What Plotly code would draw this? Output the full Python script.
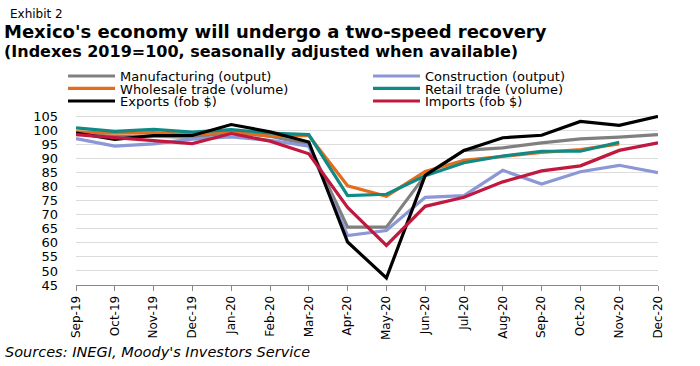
import plotly.graph_objects as go

months = ["Sep-19", "Oct-19", "Nov-19", "Dec-19", "Jan-20", "Feb-20", "Mar-20", "Apr-20",
          "May-20", "Jun-20", "Jul-20", "Aug-20", "Sep-20", "Oct-20", "Nov-20", "Dec-20"]

manufacturing = [99.0, 97.8, 98.0, 97.5, 99.3, 98.0, 95.0, 65.6, 65.6, 84.0, 92.9, 93.8, 95.6, 97.0, 97.6, 98.5]
construction = [97.1, 94.4, 95.2, 96.9, 97.7, 96.5, 94.4, 62.6, 64.4, 76.2, 76.8, 85.8, 80.9, 85.3, 87.6, 85.0]
wholesale = [99.5, 99.0, 99.2, 98.5, 99.6, 98.0, 98.2, 80.3, 76.6, 85.4, 89.4, 90.9, 92.2, 93.2, 95.2]
retail = [100.9, 99.7, 100.4, 99.4, 100.3, 99.1, 98.5, 76.8, 77.3, 83.9, 88.5, 90.9, 92.6, 92.6, 95.8]
exports = [99.1, 96.8, 98.2, 98.2, 102.1, 99.5, 95.9, 60.3, 47.5, 84.0, 92.9, 97.4, 98.3, 103.2, 101.8, 105.0]
imports = [98.5, 97.4, 96.2, 95.3, 98.9, 96.2, 91.7, 72.6, 59.1, 73.0, 76.2, 81.7, 85.6, 87.4, 92.9, 95.6]

y_ticks = list(range(45, 106, 5))

series = [
    ("Manufacturing (output)", manufacturing, "#808080", "legend"),
    ("Construction (output)", construction, "#8C97D6", "legend"),
    ("Wholesale trade (volume)", wholesale, "#E46C1C", "legend2"),
    ("Retail trade (volume)", retail, "#0F8A84", "legend2"),
    ("Exports (fob $)", exports, "#000000", "legend3"),
    ("Imports (fob $)", imports, "#C0183E", "legend3"),
]

FONT = "DejaVu Sans"

fig = go.Figure()
for name, vals, color, lg in series:
    fig.add_trace(go.Scatter(x=months[:len(vals)], y=vals, name=name, mode="lines",
                             legend=lg, line=dict(color=color, width=3.2)))

def legend_row(y):
    return dict(orientation="h", x=-0.0223, y=y, xanchor="left", yanchor="middle",
                entrywidth=243, entrywidthmode="pixels", itemwidth=47,
                font=dict(family=FONT, size=13, color="#000"),
                bgcolor="rgba(0,0,0,0)", borderwidth=0)

fig.update_layout(
    width=700, height=366,
    margin=dict(l=76, r=42, t=115, b=81, autoexpand=False),
    paper_bgcolor="white", plot_bgcolor="white",
    font=dict(family=FONT, size=13, color="#000"),
    showlegend=True,
    legend=legend_row(1.229),
    legend2=legend_row(1.156),
    legend3=legend_row(1.082),
    xaxis=dict(type="category", categoryorder="array", categoryarray=months,
               range=[0, len(months) - 1], tickangle=-90, automargin=False,
               showgrid=False, showline=True, linecolor="#888", linewidth=1,
               ticks="outside", ticklen=5, tickcolor="#888",
               tickfont=dict(size=12, family=FONT)),
    yaxis=dict(range=[45, 105.5], tickvals=y_ticks, showgrid=True, gridcolor="#dcdcdc",
               gridwidth=1, zeroline=False, showline=False, ticks="", automargin=False,
               ticklabelstandoff=17,
               tickfont=dict(size=13, family=FONT)),
)

def note(text, x, y, size, yanchor="top"):
    fig.add_annotation(text=text, xref="paper", yref="paper", x=x, y=y,
                       xanchor="left", yanchor=yanchor, showarrow=False,
                       font=dict(family=FONT, size=size, color="#000"))

note("Exhibit 2", -0.117, 1.645, 12)
note("<b>Mexico's economy will undergo a two-speed recovery</b>", -0.128, 1.565, 18)
note("<b>(Indexes 2019=100, seasonally adjusted when available)</b>", -0.128, 1.44, 16)
note("<i>Sources: INEGI, Moody's Investors Service</i>", -0.125, -0.455, 14.5, yanchor="bottom")

fig.write_html("out.html", config={"displayModeBar": False},
               post_script="document.body.style.margin='0px';document.body.style.overflow='hidden';")
